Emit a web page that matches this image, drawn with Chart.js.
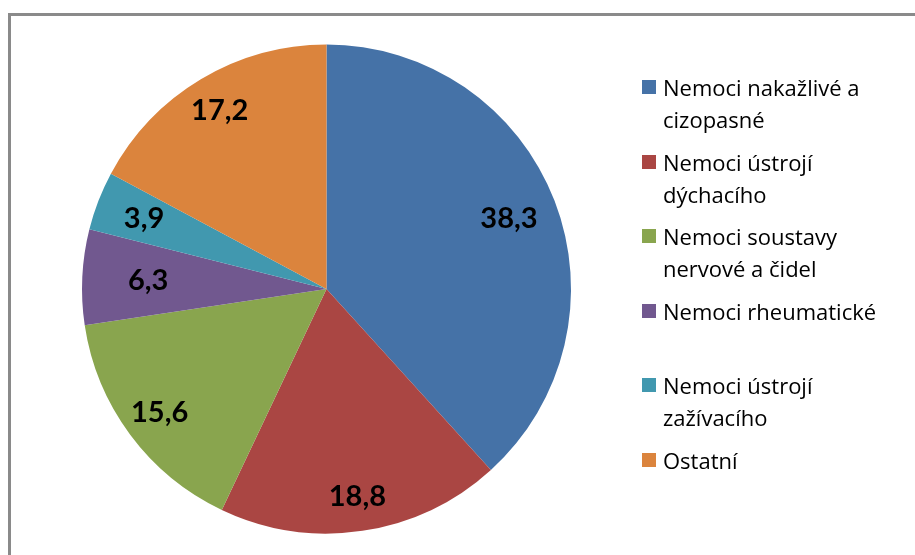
<!DOCTYPE html>
<html>
<head>
<meta charset="utf-8">
<script src="https://cdn.jsdelivr.net/npm/chart.js@4"></script>
<style>
    body { margin: 0; background: #fff; }
    #wrap { position: relative; width: 915px; height: 555px; overflow: hidden; }
    #frame { position: absolute; left: 8px; top: 13px; width: 1000px; height: 600px;
             border-left: 3px solid #8a8a8a; border-top: 3px solid #8a8a8a; }
    #chart { position: absolute; left: 0; top: 0; }
    #legend { position: absolute; left: 642px; top: 0; font-family: "Open Sans", sans-serif; font-size: 22px; color: #000; }
    .item { position: absolute; left: 0; white-space: nowrap; line-height: 32px; }
    .box { position: absolute; left: 0; top: 9px; width: 14px; height: 14px; }
    .txt { position: absolute; left: 21px; top: 0; }
</style>
</head>
<body>
<div id="wrap">
    <div id="frame"></div>
    <canvas id="chart" width="915" height="555"></canvas>
    <div id="legend"></div>
</div>
<script>
// Categories (legend lines), values in %, slice colours
const categories = [
    ['Nemoci nakažlivé a', 'cizopasné'],
    ['Nemoci ústrojí', 'dýchacího'],
    ['Nemoci soustavy', 'nervové a čidel'],
    ['Nemoci rheumatické'],
    ['Nemoci ústrojí', 'zažívacího'],
    ['Ostatní']
];
const values = [38.3, 18.8, 15.6, 6.3, 3.9, 17.2];
const colors = ['#4572A7', '#AA4643', '#89A54E', '#71588F', '#4198AF', '#DB843D'];
// how far out (fraction of radius) each value label sits
const labelRadius = [0.8, 0.86, 0.85, 0.73, 0.8, 0.85];

// Draw the value inside each slice
const sliceLabels = {
    id: 'sliceLabels',
    afterDatasetsDraw(chart) {
        const ctx = chart.ctx;
        const meta = chart.getDatasetMeta(0);
        ctx.save();
        ctx.font = 'bold 29px Lato, sans-serif';
        ctx.fillStyle = '#000';
        ctx.textAlign = 'center';
        ctx.textBaseline = 'middle';
        meta.data.forEach((arc, i) => {
            const p = arc.getProps(['x', 'y', 'startAngle', 'endAngle', 'outerRadius'], true);
            const mid = (p.startAngle + p.endAngle) / 2;
            const r = p.outerRadius * labelRadius[i];
            const text = values[i].toFixed(1).replace('.', ',');
            ctx.fillText(text, p.x + Math.cos(mid) * r, p.y + Math.sin(mid) * r);
        });
        ctx.restore();
    }
};

const chartContext = document.getElementById('chart').getContext('2d');
const pieChart = new Chart(chartContext, {
    type: 'pie',
    data: {
        labels: categories.map(c => c.join(' ')),
        datasets: [{
            data: values,
            backgroundColor: colors,
            borderWidth: 0
        }]
    },
    options: {
        responsive: false,
        animation: false,
        layout: { padding: { top: 43, bottom: 20, left: 82, right: 344 } },
        plugins: {
            legend: { display: false },
            tooltip: { enabled: false }
        }
    },
    plugins: [sliceLabels]
});

// Legend on the right, two lines per entry
const legend = document.getElementById('legend');
categories.forEach((lines, i) => {
    const item = document.createElement('div');
    item.className = 'item';
    item.style.top = (71 + i * 74.5) + 'px';
    const box = document.createElement('div');
    box.className = 'box';
    box.style.background = colors[i];
    const txt = document.createElement('div');
    txt.className = 'txt';
    txt.innerHTML = lines.join('<br>');
    item.appendChild(box);
    item.appendChild(txt);
    legend.appendChild(item);
});
</script>
</body>
</html>
